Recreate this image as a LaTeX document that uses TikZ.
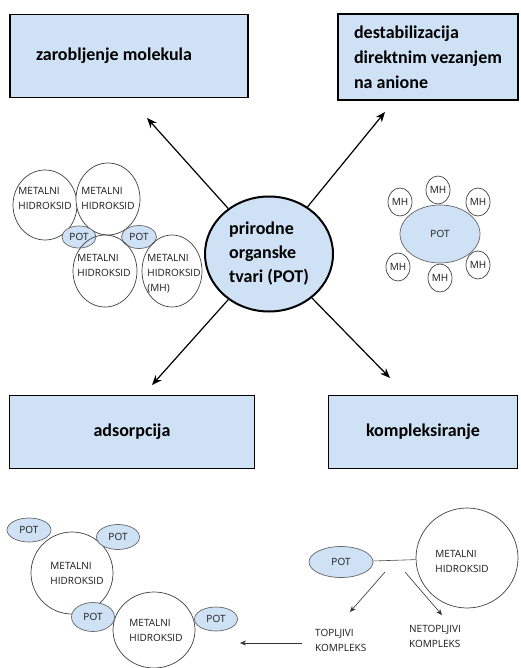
\documentclass[tikz,border=0pt]{standalone}
\usepackage{fontspec}
\setmainfont{Carlito}
\newfontfamily\malifont{Open Sans}
\usepackage{tikz}
\usetikzlibrary{shapes}
\usetikzlibrary{arrows.meta}
\usetikzlibrary{positioning}
\definecolor{plava}{RGB}{207,226,245}
\tikzstyle{okvir}=[rectangle,draw,line width=1.5pt,fill=plava,inner sep=0pt,align=left,
        font=\fontsize{18}{25}\selectfont\bfseries]
\tikzstyle{sredina}=[ellipse,draw,line width=2pt,fill=plava,inner sep=0pt,align=left,
        font=\fontsize{18}{24}\selectfont\bfseries]
\tikzstyle{mh}=[ellipse,draw=black!75,line width=0.7pt,inner sep=0pt,
        text=black!90,font=\malifont\fontsize{10}{11}\selectfont]
\tikzstyle{pot}=[ellipse,draw=black!60,line width=0.7pt,fill=plava,inner sep=0pt,
        text=black!90,font=\malifont\fontsize{10}{11}\selectfont]
\tikzstyle{tekst}=[align=left,inner sep=0pt,text=black!90,font=\malifont\fontsize{10}{15}\selectfont]
\tikzstyle{strelica}=[-{Stealth[length=10pt,width=8pt]},line width=1.2pt]
\tikzstyle{tanka}=[-{Stealth[length=6pt,width=5pt]},line width=0.6pt,black!80]

\begin{document}
\begin{tikzpicture}[x=1pt,y=-1pt]
\useasboundingbox (0,0) rectangle (520,668);
% okviri
\node[okvir,minimum width=238pt,minimum height=83pt,text width=186pt,align=flush left] (zar) at (129,56) {zarobljenje molekula};
\node[okvir,minimum width=180pt,minimum height=86pt] (dest) at (428,57) {destabilizacija\\direktnim vezanjem\\na anione};
\node[okvir,minimum width=245pt,minimum height=73pt] (ads) at (132,432) {adsorpcija};
\node[okvir,minimum width=189pt,minimum height=73pt] (kom) at (423,432) {kompleksiranje};
\node[sredina,minimum width=128pt,minimum height=115pt] (pot) at (269,254) {prirodne\\organske\\tvari (POT)};
% vrhovi strelica
\coordinate (t1) at (147,118);
\coordinate (t2) at (385,112);
\coordinate (t3) at (152,385);
\coordinate (t4) at (390,378);
\draw[strelica] (pot) -- (t1);
\draw[strelica] (pot) -- (t2);
\draw[strelica] (pot) -- (t3);
\draw[strelica] (pot) -- (t4);

% zarobljenje
\node[mh,fill=white,minimum width=64pt,minimum height=70pt] (a) at (45,205) {};
\node[mh,fill=white,minimum width=64pt,minimum height=72pt] (b) at (108,199) {};
\node[pot,minimum width=34pt,minimum height=22pt] (p1) at (79,237) {POT};
\node[pot,minimum width=35pt,minimum height=23pt] (p2) at (139,237) {POT};
\node[mh,minimum width=64pt,minimum height=72pt] (c) at (105,271) {};
\node[mh,minimum width=60pt,minimum height=72pt] (d) at (172,271) {};
\node[tekst] (ta) at (45,198) {METALNI\\HIDROKSID};
\node[tekst] (tb) at (108,198) {METALNI\\HIDROKSID};
\node[tekst] (tc) at (104,265) {METALNI\\HIDROKSID};
\node[tekst] (td) at (174,274) {METALNI\\HIDROKSID\\(MH)};

% destabilizacija
\node[mh,minimum width=24pt,minimum height=28pt] (m1) at (438,190) {MH};
\node[mh,minimum width=24pt,minimum height=28pt] (m2) at (400,202) {MH};
\node[mh,minimum width=24pt,minimum height=28pt] (m3) at (478,202) {MH};
\node[mh,minimum width=24pt,minimum height=28pt] (m4) at (398,267) {MH};
\node[mh,minimum width=24pt,minimum height=28pt] (m5) at (440,278) {MH};
\node[mh,minimum width=24pt,minimum height=28pt] (m6) at (478,265) {MH};
\node[pot,minimum width=80pt,minimum height=58pt] (p3) at (440,234) {POT};

% adsorpcija
\node[mh,minimum width=82pt,minimum height=82pt] (e) at (72,573) {};
\node[mh,minimum width=82pt,minimum height=76pt] (f) at (154,630) {};
\node[pot,minimum width=44pt,minimum height=24pt] (p4) at (29,530) {POT};
\node[pot,minimum width=43pt,minimum height=25pt] (p5) at (118,537) {POT};
\node[pot,minimum width=43pt,minimum height=29pt] (p6) at (93,617) {POT};
\node[pot,minimum width=43pt,minimum height=24pt] (p7) at (216,619) {POT};
\node[tekst] (te) at (77,573) {METALNI\\HIDROKSID};
\node[tekst] (tf) at (156,630) {METALNI\\HIDROKSID};

% kompleksiranje
\node[pot,minimum width=64pt,minimum height=31pt] (p8) at (341,562) {POT};
\node[mh,minimum width=102pt,minimum height=100pt] (g) at (467,558) {};
\node[tekst] (tg) at (462,561) {METALNI\\HIDROKSID};
\node[tekst,anchor=west] (topl) at (315,640) {TOPLJIVI\\KOMPLEKS};
\node[tekst,anchor=west] (netopl) at (409,636) {NETOPLJIVI\\KOMPLEKS};
\draw[line width=0.6pt,black!70] (p8) -- (g);
\coordinate (s1) at (385,572);
\coordinate (e1) at (350,612);
\coordinate (s2) at (405,572);
\coordinate (e2) at (442,615);
\coordinate (s3) at (302,643);
\coordinate (e3) at (240,643);
\draw[tanka] (s1) -- (e1);
\draw[tanka] (s2) -- (e2);
\draw[tanka] (s3) -- (e3);
\end{tikzpicture}
\end{document}
